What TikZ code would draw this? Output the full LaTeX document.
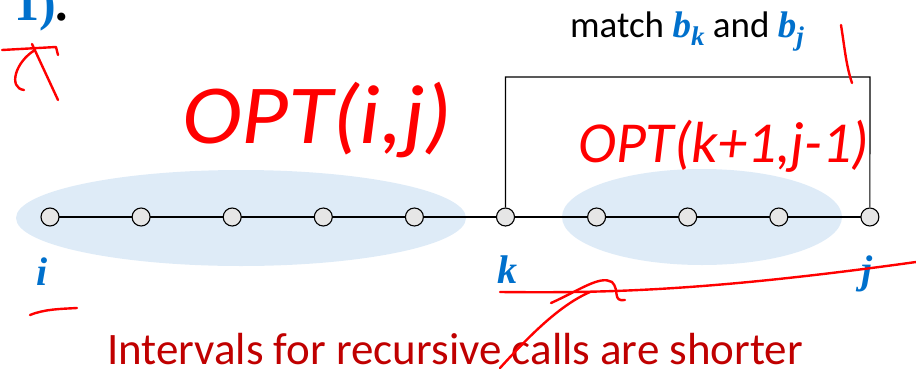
\documentclass[tikz,border=0pt]{standalone}
\usepackage{fontspec}
\setmainfont{Carlito}
\newfontfamily\slideserif{Liberation Serif}
\usetikzlibrary{calc, positioning}
\definecolor{slideblue}{RGB}{0,112,204}
\definecolor{slidered}{RGB}{192,0,0}
\definecolor{inkred}{RGB}{255,0,0}
\definecolor{rangeblue}{RGB}{222,235,247}
\definecolor{dotgray}{RGB}{230,230,230}
\newcommand\idx[1]{{\slideserif\bfseries\itshape #1}}
\newcommand\bsub[1]{\textcolor{slideblue}{\idx{b}\raisebox{-0.22em}{\fontsize{27}{29}\selectfont\idx{#1}}}}

\tikzset{
  seqdot/.style={circle, draw=black, fill=dotgray, line width=1.1pt, minimum size=18pt, inner sep=0pt},
  subrange/.style={fill=rangeblue, draw=none},
  idxlabel/.style={anchor=base, text=slideblue, inner sep=0pt, font=\fontsize{40}{44}\selectfont},
  ink/.style={draw=inkred, line width=2.4pt, line cap=round, line join=round},
  inktext/.style={text=inkred, inner sep=0pt}
}

\begin{document}
\begin{tikzpicture}[x=1pt, y=-1pt]
  \useasboundingbox (0,0) rectangle (916,370);
  % leftover of the slide text above
  \node[anchor=base west, inner sep=0pt, font=\slideserif\bfseries\fontsize{50}{56}\selectfont] (prev) at (14,20) {\textcolor{slideblue}{1)}.};
  % recursive sub-intervals
  \fill[subrange] (241,218) ellipse [x radius=225, y radius=48];
  \fill[subrange] (702,217) ellipse [x radius=140, y radius=48];
  % the chain
  \draw[line width=1.1pt] (50,217) -- (870,217);
  \foreach \n in {1,...,10}
    \node[seqdot] (n\n) at ({50+91.1*(\n-1)},217) {};
  % bracket for the matched pair
  \coordinate (boxtop) at (870,77);
  \draw[line width=1.1pt] (n6.north) |- (boxtop) -- (n10.north);
  \node[anchor=base, inner sep=0pt, font=\fontsize{37}{40}\selectfont] (match) at (687,37)
    {match \bsub{k} and \bsub{j}};
  % index labels
  \node[idxlabel] (li) at (42,285) {\idx{i}};
  \node[idxlabel] (lk) at (507,283) {\idx{k}};
  \node[idxlabel] (lj) at (867,283) {\idx{j}};
  \node[anchor=base, inner sep=0pt, text=slidered, font=\fontsize{45}{48}\selectfont] (note) at (455,364)
    {Intervals for recursive calls are shorter};
  % handwritten notes
  \node[inktext, anchor=base west, xscale=1.08, font=\itshape\fontsize{84}{90}\selectfont] (opt1) at (182,143) {OPT(i,j)};
  \node[inktext, anchor=base west, font=\itshape\fontsize{58}{64}\selectfont] (opt2) at (578,162) {OPT(k+1,j-1)};
  \draw[ink] (2,50) -- (56,47) -- (58,55);
  \draw[ink] (35,50) .. controls (15,62) and (8,88) .. (24,90);
  \draw[ink] (32,44) -- (58,100);
  \draw[ink] (841,25) .. controls (845,50) and (846,65) .. (852,83);
  \draw[ink] (30,315) .. controls (45,309) and (60,309) .. (77,308);
  \draw[ink] (500,292) .. controls (600,293) and (700,292) .. (916,262);
  \draw[ink] (551,303) .. controls (580,290) and (600,275) .. (612,282)
    .. controls (620,290) and (612,302) .. (625,300);
  \draw[ink] (500,368) .. controls (530,335) and (560,305) .. (590,292);
\end{tikzpicture}
\end{document}
